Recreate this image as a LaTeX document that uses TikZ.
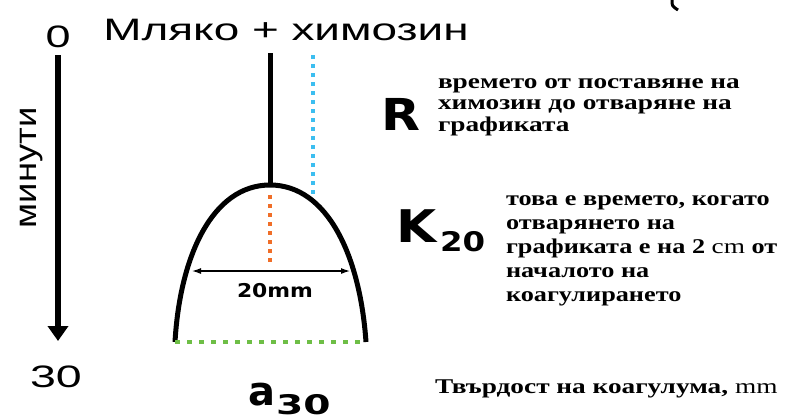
\documentclass[tikz,border=0pt]{standalone}
\usepackage{fontspec}
\usepackage{graphicx}
\usetikzlibrary{arrows.meta}
\setmainfont{Liberation Serif}
\newfontfamily\titlef{Liberation Sans}
\newfontfamily\boldsf{DejaVu Sans Bold}
\newfontfamily\parbf[FakeStretch=1.3]{Liberation Serif Bold}
\newfontfamily\parbfk[FakeStretch=1.25]{Liberation Serif Bold}
\newfontfamily\parmd[FakeStretch=1.3]{Liberation Serif}
\definecolor{cyanc}{RGB}{60,190,240}
\definecolor{orangec}{RGB}{240,110,40}
\definecolor{greenc}{RGB}{110,190,70}
\tikzset{
  lbl/.style={inner sep=0pt, outer sep=0pt},
  para/.style={lbl, align=left, font=\parbf\fontsize{21}{21.5}\selectfont},
  dotline/.style={line width=4pt, dash pattern=on 4pt off 5pt},
  thick line/.style={line width=5pt},
}
\begin{document}
\begin{tikzpicture}[x=1pt,y=1pt]
\useasboundingbox (0,0) rectangle (792,-415);
% axis
\node[lbl, anchor=base, font=\titlef\fontsize{31}{31}\selectfont] (zero) at (58,-47) {\scalebox{1.45}[1]{0}};
\node[lbl, anchor=base, font=\titlef\fontsize{31}{31}\selectfont] (thirty) at (56,-387) {\scalebox{1.5}[1]{30}};
\node[lbl, anchor=base, rotate=90, font=\titlef\fontsize{28}{28}\selectfont] (min) at (36,-168) {\scalebox{1.3}[1.1]{минути}};
\coordinate (axtop) at (58,-55);
\coordinate (axbot) at (58,-341);
\draw[line width=6pt, -{Triangle[width=20pt,length=15pt]}] (axtop) -- (axbot);
% title
\node[lbl, anchor=base, font=\titlef\fontsize{31}{31}\selectfont] (title) at (286,-40) {\scalebox{1.48}[1]{Мляко + химозин}};
% graph
\coordinate (stemtop) at (270,-53);
\coordinate (apex) at (270,-185);
\coordinate (bl) at (175,-342);
\coordinate (br) at (366,-342);
\draw[thick line] (stemtop) -- (apex);
\draw[thick line] (bl) .. controls (180,-255) and (213,-185) .. (apex) .. controls (327,-185) and (360,-255) .. (br);
\coordinate (ctop) at (313,-55);
\coordinate (cbot) at (313,-194);
\draw[dotline, cyanc] (ctop) -- (cbot);
\coordinate (otop) at (270,-195);
\coordinate (obot) at (270,-262);
\draw[dotline, orangec] (otop) -- (obot);
\coordinate (gl) at (175,-342);
\coordinate (gr) at (366,-342);
\draw[greenc, line width=4pt, dash pattern=on 5pt off 7pt] (gl) -- (gr);
\coordinate (wl) at (192,-271);
\coordinate (wr) at (350,-271);
\draw[line width=1.2pt, {Latex[length=9pt,width=6pt]}-{Latex[length=9pt,width=6pt]}] (wl) -- (wr);
\node[lbl, anchor=base, font=\boldsf\fontsize{19}{19}\selectfont] (mm) at (275,-297) {\scalebox{1.15}[1]{20mm}};
% labels
\node[lbl, anchor=base, font=\boldsf\fontsize{44}{44}\selectfont] (R) at (401,-130) {\scalebox{1.15}[1]{R}};
\node[lbl, anchor=base west, font=\boldsf\fontsize{45}{45}\selectfont] (K) at (396,-242) {\scalebox{1.15}[1]{K}};
\node[lbl, anchor=base west, font=\boldsf\fontsize{27}{27}\selectfont] (K20) at (440,-251) {\scalebox{1.2}[1]{20}};
\node[lbl, anchor=base west, font=\boldsf\fontsize{40}{40}\selectfont] (a) at (248,-405) {a};
\node[lbl, anchor=base west, font=\boldsf\fontsize{27}{27}\selectfont] (a30) at (276,-414) {\scalebox{1.45}[1]{30}};
\node[para, anchor=base west] (Rtxt) at (438,-131) {времето от поставяне на\\химозин до отваряне на\\графиката};
\node[para, anchor=base west, font=\parbfk\fontsize{21}{24}\selectfont] (Ktxt) at (506,-301) {това е времето, когато\\отварянето на\\графиката е на 2 {\parmd cm} от\\началото на\\коагулирането};
\node[para, anchor=base west] (Ttxt) at (435,-393) {Твърдост на коагулума, {\parmd mm}};
% corner arc
\coordinate (p1) at (672,0);
\coordinate (p2) at (678,-10);
\draw[line width=3pt] (p1) .. controls (672,-6) .. (p2);
\end{tikzpicture}
\end{document}
